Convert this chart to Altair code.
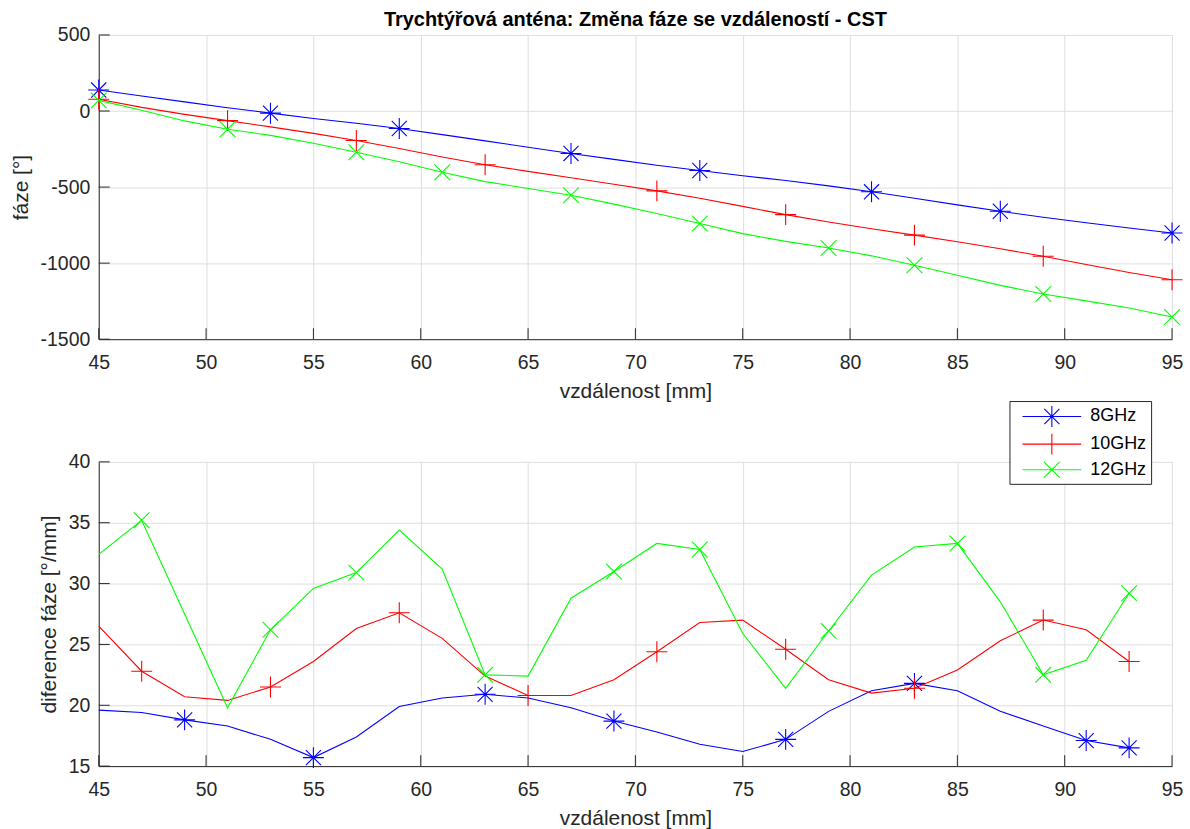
import altair as alt
import pandas as pd

# Distance samples (mm) for the phase curves and for the phase-difference curves
distance = [45, 47, 49, 51, 53, 55, 57, 59, 61, 63, 65, 67, 69, 71, 73, 75, 77, 79,
            81, 83, 85, 87, 89, 91, 93, 95]
diff_distance = [45, 47, 49, 51, 53, 55, 57, 59, 61, 63, 65, 67, 69, 71, 73, 75, 77,
                 79, 81, 83, 85, 87, 89, 91, 93]

series = ["8GHz", "10GHz", "12GHz"]
colors = ["#0000FF", "#FF0000", "#00FF00"]

# Phase (deg) vs distance
phase_8 = [138, 99, 60, 22, -14, -49, -80, -115, -155, -196, -238, -279, -318, -356,
           -391, -425, -457, -492, -531, -573, -617, -659, -698, -735, -769, -802]
phase_10 = [77, 24, -22, -63, -104, -147, -194, -246, -302, -353, -397, -439, -481,
            -525, -573, -627, -681, -730, -774, -816, -859, -905, -955, -1009, -1062, -1109]
phase_12 = [70, 5, -65, -120, -160, -212, -271, -333, -402, -464, -509, -554, -612,
            -674, -740, -806, -857, -900, -952, -1014, -1080, -1146, -1203, -1248, -1295, -1354]

# Phase difference (deg/mm) vs distance
diff_8 = [19.6, 19.4, 18.8, 18.3, 17.2, 15.7, 17.4, 19.9, 20.6, 20.9, 20.6, 19.8, 18.7,
          17.8, 16.8, 16.2, 17.2, 19.5, 21.2, 21.8, 21.2, 19.5, 18.3, 17.1, 16.5]
diff_10 = [26.5, 22.8, 20.7, 20.4, 21.5, 23.6, 26.3, 27.6, 25.5, 22.4, 20.8, 20.8, 22.1,
           24.4, 26.8, 27.0, 24.6, 22.1, 21.0, 21.4, 22.9, 25.3, 27.0, 26.2, 23.6]
diff_12 = [32.4, 35.2, 27.5, 19.8, 26.2, 29.6, 30.9, 34.4, 31.2, 22.5, 22.4, 28.8, 31.0,
           33.3, 32.8, 25.9, 21.4, 26.1, 30.7, 33.0, 33.3, 28.5, 22.5, 23.7, 29.2]

# Distances that carry a marker on each curve
phase_markers = {
    "8GHz": [45, 53, 59, 67, 73, 81, 87, 95],
    "10GHz": [45, 51, 57, 63, 71, 77, 83, 89, 95],
    "12GHz": [45, 51, 57, 61, 67, 73, 79, 83, 89, 95],
}
diff_markers = {
    "8GHz": [49, 55, 63, 69, 77, 83, 91, 93],
    "10GHz": [47, 53, 59, 65, 71, 77, 83, 89, 93],
    "12GHz": [47, 53, 57, 63, 69, 73, 79, 85, 89, 93],
}

x_ticks = [45, 50, 55, 60, 65, 70, 75, 80, 85, 90, 95]
phase_ticks = [-1500, -1000, -500, 0, 500]
diff_ticks = [15, 20, 25, 30, 35, 40]

# Marker glyphs: asterisk, plus, cross (unit radius)
marker_paths = [
    "M-1,0L1,0M0,-1L0,1M-0.72,-0.72L0.72,0.72M-0.72,0.72L0.72,-0.72",
    "M-1,0L1,0M0,-1L0,1",
    "M-0.75,-0.75L0.75,0.75M-0.75,0.75L0.75,-0.75",
]
# Legend glyphs: the same markers drawn over a short line sample
legend_paths = ["M-2.8,0L2.8,0" + p for p in marker_paths]

FONT = "Liberation Sans"
AX = "#262626"
GRID = "#dedede"
W, H = 1076, 305
TICK = 11
MSIZE = 441


def long_table(xs, cols):
    rows = []
    for name, vals in zip(series, cols):
        for d, v in zip(xs, vals):
            rows.append({"d": d, "v": v, "s": name})
    return pd.DataFrame(rows)


def marker_table(df, marks):
    keep = [(r.s in marks and r.d in marks[r.s]) for r in df.itertuples()]
    return df[keep]


def panel(xs, cols, marks, ydomain, yticks, ytitle, with_legend=False, title=None):
    df = long_table(xs, cols)
    mdf = marker_table(df, marks)

    xscale = alt.Scale(domain=[45, 95], nice=False, zero=False)
    yscale = alt.Scale(domain=ydomain, nice=False, zero=False)
    cscale = alt.Scale(domain=series, range=colors)

    xaxis = alt.Axis(values=x_ticks, title="vzdálenost [mm]", grid=True, gridColor=GRID,
                     gridWidth=1, ticks=False, domainColor=AX, domainWidth=1,
                     labelFont=FONT, labelFontSize=19.5, labelColor=AX, labelPadding=14.5,
                     labelFlush=False,
                     titleFont=FONT, titleFontSize=21, titleFontWeight="normal",
                     titleColor=AX, titlePadding=8.5, labelExpr="datum.value + ''")
    yaxis = alt.Axis(values=yticks, title=ytitle, grid=True, gridColor=GRID, gridWidth=1,
                     ticks=False, domainColor=AX, domainWidth=1, labelFont=FONT,
                     labelFontSize=19.5, labelColor=AX, labelPadding=9,
                     labelOverlap=False, titleFont=FONT, titleFontSize=21,
                     titleFontWeight="normal", titleColor=AX, titlePadding=9,
                     labelExpr="datum.value + ''")

    X = alt.X("d:Q", scale=xscale, axis=xaxis)
    Y = alt.Y("v:Q", scale=yscale, axis=yaxis)

    lines = alt.Chart(df).mark_line(strokeWidth=1.1).encode(
        x=X, y=Y,
        color=alt.Color("s:N", scale=cscale, legend=None, sort=series),
    )
    points = alt.Chart(mdf).mark_point(filled=False, size=MSIZE, strokeWidth=1.1, opacity=1).encode(
        x=X, y=Y,
        color=alt.Color("s:N", scale=cscale, legend=None, sort=series),
        shape=alt.Shape("s:N", scale=alt.Scale(domain=series, range=marker_paths), legend=None),
    )
    # inward tick marks along the bottom and left axis lines
    xt = alt.Chart(pd.DataFrame({"d": x_ticks})).mark_rule(color=AX, strokeWidth=1).encode(
        x=X, y=alt.value(H), y2=alt.value(H - TICK),
    )
    yt = alt.Chart(pd.DataFrame({"v": yticks})).mark_rule(color=AX, strokeWidth=1).encode(
        y=Y, x=alt.value(0), x2=alt.value(TICK),
    )
    layers = [lines, points, xt, yt]

    if with_legend:
        leg = dict(orient="none", legendX=913, legendY=-61, title=None, labelFont=FONT,
                   labelFontSize=18, labelColor="#000000", strokeColor=AX, fillColor="white",
                   padding=4, rowPadding=0.7, symbolOffset=27, labelOffset=27,
                   symbolSize=MSIZE, symbolStrokeWidth=1.1)
        legend_layer = alt.Chart(df).transform_filter("false").mark_point(
            filled=False, size=MSIZE, strokeWidth=1.1, opacity=1).encode(
            x=X, y=Y,
            color=alt.Color("s:N", scale=cscale, sort=series, legend=alt.Legend(**leg)),
            shape=alt.Shape("s:N", sort=series,
                            scale=alt.Scale(domain=series, range=legend_paths),
                            legend=alt.Legend(**leg)),
        )
        layers.append(legend_layer)

    props = dict(width=W, height=H)
    if title is not None:
        props["title"] = alt.Title(title, font=FONT, fontSize=20, fontWeight="bold",
                                   color="#000000", anchor="middle", frame="group", offset=-5)
    return alt.layer(*layers).resolve_scale(color="independent", shape="independent").properties(**props)


top = panel(distance, [phase_8, phase_10, phase_12], phase_markers, [-1500, 500],
            phase_ticks, "fáze [°]",
            title="Trychtýřová anténa: Změna fáze se vzdáleností - CST")
bottom = panel(diff_distance, [diff_8, diff_10, diff_12], diff_markers, [15, 40],
               diff_ticks, "diference fáze [°/mm]", with_legend=True)

chart = alt.vconcat(top, bottom, spacing=-2).properties(
    padding={"left": 10, "top": 9, "right": 5, "bottom": 5},
    background="white",
).configure_view(stroke=None)

chart.save("out.html", embed_options={"renderer": "svg", "actions": False})
